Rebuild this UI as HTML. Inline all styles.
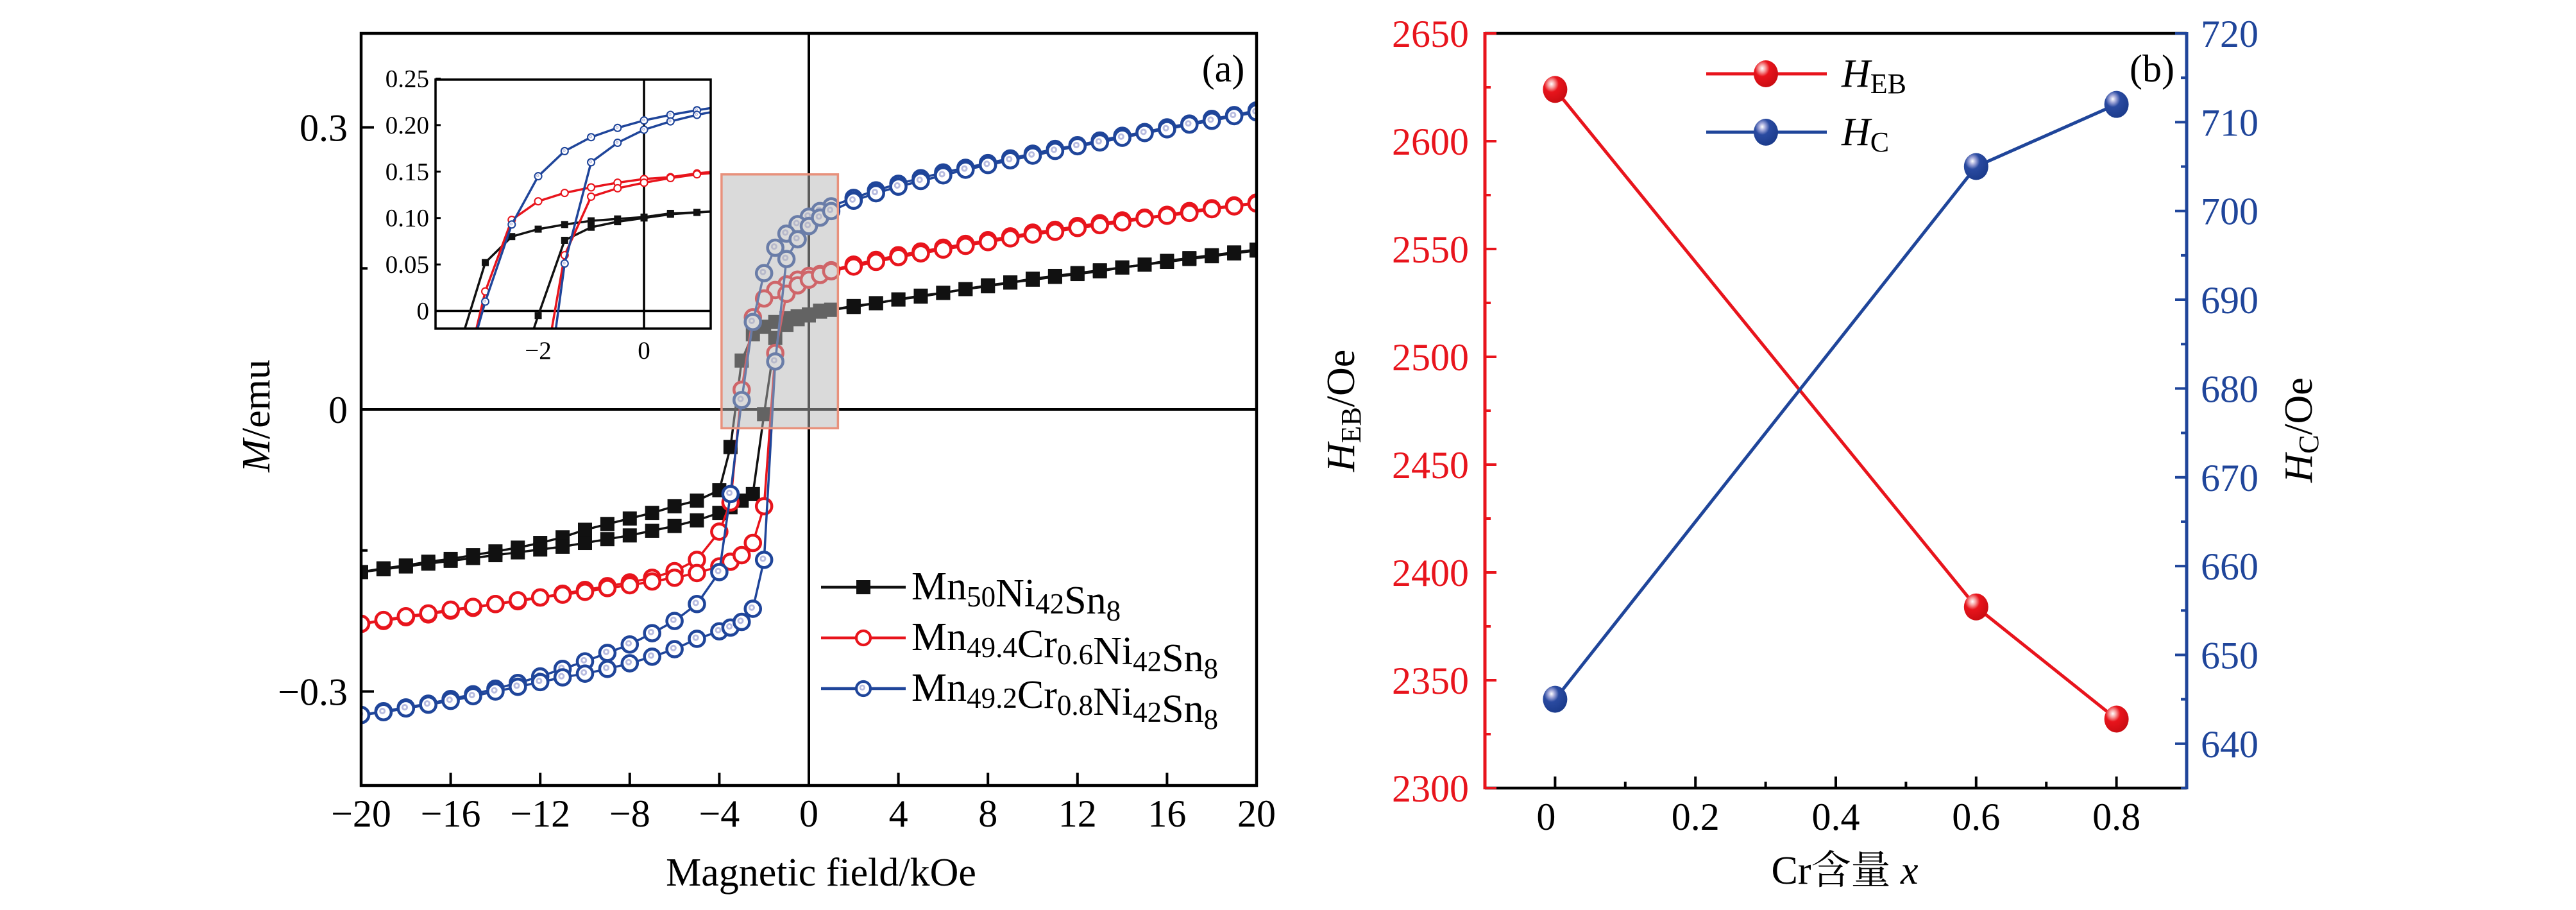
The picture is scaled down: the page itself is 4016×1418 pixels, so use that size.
<!DOCTYPE html>
<html><head><meta charset="utf-8">
<style>
html,body{margin:0;padding:0;background:#fff;}
svg{display:block;font-family:"Liberation Serif","Noto Serif CJK SC",serif;}
</style></head>
<body>
<svg id="fig" xmlns="http://www.w3.org/2000/svg" width="4016" height="1418" viewBox="0 0 4016 1418">
<defs>
<radialGradient id="gRed" cx="0.35" cy="0.3" r="0.75">
<stop offset="0" stop-color="#ffffff"/><stop offset="0.18" stop-color="#f7a0a0"/><stop offset="0.4" stop-color="#e8141c"/><stop offset="1" stop-color="#c80c12"/></radialGradient>
<radialGradient id="gBlue" cx="0.35" cy="0.3" r="0.75">
<stop offset="0" stop-color="#ffffff"/><stop offset="0.18" stop-color="#a0a6d8"/><stop offset="0.4" stop-color="#2a4aa0"/><stop offset="1" stop-color="#1a3a8a"/></radialGradient>
<clipPath id="clipA"><rect x="563" y="52" width="1396" height="1172"/></clipPath>
<clipPath id="clipI"><rect x="679" y="124" width="429" height="388"/></clipPath>
</defs>
</svg>
<script>
// ---------- Panel (a) data ----------
const hDesc = [20,19,18,17,16,15,14,13,12,11,10,9,8,7,6,5,4,3,2,1,0.5,0,-0.5,-1,-1.5,-2,-2.5,-3,-3.5,-4,-5,-6,-7,-8,-9,-10,-11,-12,-13,-14,-15,-16,-17,-18,-19,-20];
const hAsc = [-20,-19,-18,-17,-16,-15,-14,-13,-12,-11,-10,-9,-8,-7,-6,-5,-4,-3.5,-3,-2.5,-2,-1.5,-1,-0.5,0,0.5,1,2,3,4,5,6,7,8,9,10,11,12,13,14,15,16,17,18,19,20];
const mBlackDesc = [.170,.167,.164,.161,.158,.154,.151,.148,.145,.142,.139,.135,.132,.128,.124,.121,.117,.113,.110,.106,.105,.101,.099,.097,.093,.088,.080,.052,-.040,-.086,-.097,-.103,-.110,-.116,-.122,-.128,-.136,-.142,-.147,-.151,-.155,-.159,-.162,-.166,-.169,-.173];
const mBlackAsc = [-.173,-.170,-.167,-.164,-.161,-.158,-.155,-.152,-.149,-.146,-.142,-.138,-.134,-.129,-.124,-.118,-.110,-.104,-.097,-.090,-.005,.076,.090,.096,.100,.104,.106,.109,.113,.117,.120,.124,.128,.131,.135,.138,.141,.144,.147,.151,.154,.157,.160,.163,.166,.169];
const mRedDesc = [.220,.217,.214,.211,.207,.204,.201,.198,.195,.191,.188,.184,.180,.176,.172,.168,.164,.159,.154,.148,.144,.142,.138,.133,.127,.118,.098,.021,-.099,-.130,-.160,-.172,-.179,-.184,-.188,-.192,-.196,-.200,-.204,-.207,-.211,-.214,-.218,-.221,-.225,-.228];
const mRedAsc = [-.228,-.224,-.220,-.217,-.213,-.210,-.207,-.203,-.200,-.197,-.194,-.190,-.187,-.183,-.179,-.174,-.167,-.162,-.155,-.142,-.103,.060,.123,.132,.138,.143,.147,.152,.157,.162,.166,.170,.174,.178,.182,.186,.189,.193,.196,.199,.203,.206,.209,.213,.216,.219];
const mBlueDesc = [.318,.313,.309,.304,.300,.295,.291,.286,.281,.277,.272,.267,.262,.257,.252,.246,.240,.233,.225,.216,.211,.205,.197,.187,.172,.145,.093,.010,-.090,-.173,-.207,-.225,-.238,-.250,-.259,-.268,-.276,-.284,-.291,-.297,-.303,-.308,-.313,-.317,-.321,-.325];
const mBlueAsc = [-.325,-.322,-.318,-.314,-.310,-.305,-.300,-.295,-.290,-.285,-.281,-.276,-.270,-.263,-.255,-.244,-.236,-.232,-.226,-.212,-.160,.051,.160,.181,.195,.204,.211,.222,.230,.237,.243,.249,.255,.260,.265,.270,.275,.280,.284,.289,.294,.298,.303,.307,.312,.316];
const xTicksA = [-20,-16,-12,-8,-4,0,4,8,12,16,20];
const xTickLabelsA = ["\u221220","\u221216","\u221212","\u22128","\u22124","0","4","8","12","16","20"];
const yTicksA = [0.3,0,-0.3];
const yTickLabelsA = ["0.3","0","\u22120.3"];
const yMinorA = [0.15,-0.15];
const insetYTicks = [0,0.05,0.10,0.15,0.20,0.25];
const insetYLabels = ["0","0.05","0.10","0.15","0.20","0.25"];
const insetXTicks = [-2,0];
const insetXLabels = ["\u22122","0"];
// ---------- Panel (b) data ----------
const crX = [0,0.6,0.8];
const hEB = [2624,2384,2332];
const hC = [645,705,712];
const xTicksB = [0,0.2,0.4,0.6,0.8];
const xTickLabelsB = ["0","0.2","0.4","0.6","0.8"];
const yTicksBL = [2300,2350,2400,2450,2500,2550,2600,2650];
const yTicksBR = [640,650,660,670,680,690,700,710,720];

const NS = "http://www.w3.org/2000/svg";
const svg = document.getElementById('fig');
function mk(tag, attrs, parent){
  const e = document.createElementNS(NS, tag);
  for (const k in attrs) e.setAttribute(k, attrs[k]);
  (parent||svg).appendChild(e);
  return e;
}
const AX = {l:563,r:1959,t:52,b:1224,x0:-20,x1:20,y0:-0.4,y1:0.4};
const ax = h => AX.l + (h-AX.x0)/(AX.x1-AX.x0)*(AX.r-AX.l);
const ay = m => AX.b - (m-AX.y0)/(AX.y1-AX.y0)*(AX.b-AX.t);
const IN = {l:679,r:1108,t:124,b:512,x0:-3.94,x1:1.26,y0:-0.019,y1:0.249};
const ix = h => IN.l + (h-IN.x0)/(IN.x1-IN.x0)*(IN.r-IN.l);
const iy = m => IN.b - (m-IN.y0)/(IN.y1-IN.y0)*(IN.b-IN.t);
const BX = {l:2315,r:3409,t:52,b:1228};
const bx = v => BX.l + (v+0.1)/1.0*(BX.r-BX.l);
const byL = v => BX.b - (v-2300)/350*(BX.b-BX.t);
const byR = v => BX.b - (v-635)/85*(BX.b-BX.t);

const COL = {black:'#111111', red:'#e8141c', blue:'#1f459a'};

// ================= Panel (a) =================
const gA = mk('g',{});


const dataA = mk('g',{'clip-path':'url(#clipA)'},gA);


const zx = mk('line',{x1:ax(0),x2:ax(0),y1:AX.t,y2:AX.b,stroke:'#000','stroke-width':4},dataA);


const zy = mk('line',{x1:AX.l,x2:AX.r,y1:ay(0),y2:ay(0),stroke:'#000','stroke-width':4},dataA);



function marker(kind, x, y, s, parent){
  let e;
  if (kind==='black'){
    e = mk('rect',{x:x-s,y:y-s,width:2*s,height:2*s,fill:'#111'},parent);
  } else if (kind==='red'){
    e = mk('circle',{cx:x,cy:y,r:s,fill:'#fff',stroke:COL.red,'stroke-width':s*0.38},parent);
  } else {
    e = mk('g',{},parent);
    mk('circle',{cx:x,cy:y,r:s,fill:'#fff',stroke:COL.blue,'stroke-width':s*0.38},e);
    mk('circle',{cx:x-s*0.15,cy:y-s*0.15,r:s*0.42,fill:'#b8bce0'},e);
    mk('circle',{cx:x-s*0.15,cy:y-s*0.15,r:s*0.17,fill:'#fff'},e);
  }
  return e;
}
const seriesA = [
  {kind:'black', name:'mn50', H:[hDesc,hAsc], M:[mBlackDesc,mBlackAsc]},
  {kind:'red', name:'cr06', H:[hDesc,hAsc], M:[mRedDesc,mRedAsc]},
  {kind:'blue', name:'cr08', H:[hDesc,hAsc], M:[mBlueDesc,mBlueAsc]}
];
seriesA.forEach(s=>{
  const g = mk('g',{},dataA);
  
  
  for (let b=0;b<2;b++){
    const pts = s.H[b].map((h,i)=>ax(h)+','+ay(s.M[b][i])).join(' ');
    const pl = mk('polyline',{points:pts,fill:'none',stroke:COL[s.kind],'stroke-width':3.5},g);
    
    
  }
  for (let b=0;b<2;b++){
    s.H[b].forEach((h,i)=>{
      const m = marker(s.kind, ax(h), ay(s.M[b][i]), s.kind==='black'?11:12, g);
      
      
    });
  }
});
const hl = mk('rect',{x:ax(-3.9),y:ay(0.25),width:ax(1.3)-ax(-3.9),height:ay(-0.02)-ay(0.25),fill:'rgb(181,181,181)','fill-opacity':0.5,stroke:'#e8917c','stroke-width':3.5},gA);


const frA = mk('rect',{x:AX.l,y:AX.t,width:AX.r-AX.l,height:AX.b-AX.t,fill:'none',stroke:'#000','stroke-width':4.5},gA);


xTicksA.forEach((v,i)=>{
  const t = mk('line',{x1:ax(v),x2:ax(v),y1:AX.b,y2:AX.b-20,stroke:'#000','stroke-width':4},gA);
  
  
  const lb = mk('text',{x:ax(v),y:1288,'font-size':60,'text-anchor':'middle'},gA);
  lb.textContent = xTickLabelsA[i];
  
  
});
yTicksA.forEach((v,i)=>{
  const t = mk('line',{x1:AX.l,x2:AX.l+20,y1:ay(v),y2:ay(v),stroke:'#000','stroke-width':4},gA);
  
  
  const lb = mk('text',{x:542,y:ay(v)+21,'font-size':60,'text-anchor':'end'},gA);
  lb.textContent = yTickLabelsA[i];
  
  
});
yMinorA.forEach(v=>{
  const t = mk('line',{x1:AX.l,x2:AX.l+10,y1:ay(v),y2:ay(v),stroke:'#000','stroke-width':4},gA);
  
  
});
const xlA = mk('text',{x:1280,y:1380,'font-size':62,'text-anchor':'middle'},gA);
xlA.textContent = 'Magnetic field/kOe';


const ylA = mk('text',{x:0,y:0,'font-size':62,'text-anchor':'middle',transform:'translate(420,648) rotate(-90)'},gA);
ylA.innerHTML = '<tspan font-style="italic">M</tspan>/emu';


const tagA = mk('text',{x:1907,y:127,'font-size':60,'text-anchor':'middle'},gA);
tagA.textContent = '(a)';



const legA = mk('g',{},gA);


const legItems = [
  {kind:'black', y:915, parts:[['Mn',0],['50',1],['Ni',0],['42',1],['Sn',0],['8',1]]},
  {kind:'red', y:994, parts:[['Mn',0],['49.4',1],['Cr',0],['0.6',1],['Ni',0],['42',1],['Sn',0],['8',1]]},
  {kind:'blue', y:1073, parts:[['Mn',0],['49.2',1],['Cr',0],['0.8',1],['Ni',0],['42',1],['Sn',0],['8',1]]}
];
legItems.forEach(it=>{
  const g = mk('g',{},legA);
  
  
  mk('line',{x1:1280,x2:1412,y1:it.y,y2:it.y,stroke:COL[it.kind],'stroke-width':4.5},g);
  marker(it.kind,1346,it.y,11,g);
  const t = mk('text',{x:1421,y:it.y+19,'font-size':62},g);
  t.innerHTML = it.parts.map(p=>p[1]?'<tspan font-size="45" dy="11">'+p[0]+'</tspan><tspan dy="-11"></tspan>':'<tspan>'+p[0]+'</tspan>').join('');
});

const gI = mk('g',{},gA);


mk('rect',{x:IN.l,y:IN.t,width:IN.r-IN.l,height:IN.b-IN.t,fill:'#fff'},gI);
const dI = mk('g',{'clip-path':'url(#clipI)'},gI);
mk('line',{x1:ix(0),x2:ix(0),y1:IN.t,y2:IN.b,stroke:'#000','stroke-width':3.5},dI);
mk('line',{x1:IN.l,x2:IN.r,y1:iy(0),y2:iy(0),stroke:'#000','stroke-width':3.5},dI);
seriesA.forEach(s=>{
  const g = mk('g',{},dI);
  
  
  for (let b=0;b<2;b++){
    const pts = s.H[b].map((h,i)=>ix(h)+','+iy(s.M[b][i])).join(' ');
    mk('polyline',{points:pts,fill:'none',stroke:COL[s.kind],'stroke-width':3.5},g);
  }
  for (let b=0;b<2;b++){
    s.H[b].forEach((h,i)=>{
      if (h<-4.3||h>1.6) return;
      const m = marker(s.kind, ix(h), iy(s.M[b][i]), 5.5, g);
      
      
    });
  }
});
const frI = mk('rect',{x:IN.l,y:IN.t,width:IN.r-IN.l,height:IN.b-IN.t,fill:'none',stroke:'#000','stroke-width':3.5},gI);


insetYTicks.forEach((v,i)=>{
  mk('line',{x1:IN.l,x2:IN.l+8,y1:iy(v),y2:iy(v),stroke:'#000','stroke-width':3},gI);
  const lb = mk('text',{x:669,y:iy(v)+13,'font-size':39,'text-anchor':'end'},gI);
  lb.textContent = insetYLabels[i];
  
  
});
insetXTicks.forEach((v,i)=>{
  const lb = mk('text',{x:ix(v),y:559,'font-size':39,'text-anchor':'middle'},gI);
  lb.textContent = insetXLabels[i];
  
  
});

// ================= Panel (b) =================
const gB = mk('g',{});


const topB = mk('line',{x1:BX.l,x2:BX.r,y1:BX.t,y2:BX.t,stroke:'#000','stroke-width':4.5},gB);


const botB = mk('line',{x1:BX.l,x2:BX.r,y1:BX.b,y2:BX.b,stroke:'#000','stroke-width':4.5},gB);


const leftB = mk('line',{x1:BX.l,x2:BX.l,y1:BX.t-2,y2:BX.b+2,stroke:COL.red,'stroke-width':5},gB);


const rightB = mk('line',{x1:BX.r,x2:BX.r,y1:BX.t-2,y2:BX.b+2,stroke:COL.blue,'stroke-width':5},gB);


for (let k=1;k<=9;k++){
  const v = -0.1 + k*0.1;
  const major = (k%2===1);
  mk('line',{x1:bx(v),x2:bx(v),y1:BX.b,y2:BX.b-(major?18:10),stroke:'#000','stroke-width':4},gB);
}
xTicksB.forEach((v,i)=>{
  const lb = mk('text',{x:bx(v)-(v===0?14:0),y:1293,'font-size':60,'text-anchor':'middle'},gB);
  lb.textContent = xTickLabelsB[i];
  
  
});
yTicksBL.forEach((v,i)=>{
  mk('line',{x1:BX.l,x2:BX.l+18,y1:byL(v),y2:byL(v),stroke:COL.red,'stroke-width':4},gB);
  if (i<yTicksBL.length-1) mk('line',{x1:BX.l,x2:BX.l+9,y1:byL(v+25),y2:byL(v+25),stroke:COL.red,'stroke-width':4},gB);
  const lb = mk('text',{x:2290,y:byL(v)+21,'font-size':60,'text-anchor':'end',fill:COL.red},gB);
  lb.textContent = String(v);
  
  
});
yTicksBR.forEach((v,i)=>{
  mk('line',{x1:BX.r,x2:BX.r-18,y1:byR(v),y2:byR(v),stroke:COL.blue,'stroke-width':4},gB);
  mk('line',{x1:BX.r,x2:BX.r-9,y1:byR(v-5),y2:byR(v-5),stroke:COL.blue,'stroke-width':4},gB);
  const lb = mk('text',{x:3431,y:byR(v)+21,'font-size':60,'text-anchor':'start',fill:COL.blue},gB);
  lb.textContent = String(v);
  
  
});
function ball(x,y,grad,parent){
  return mk('ellipse',{cx:x,cy:y,rx:19,ry:21,fill:'url(#'+grad+')'},parent);
}
const lineEB = mk('polyline',{points:crX.map((v,i)=>bx(v)+','+byL(hEB[i])).join(' '),fill:'none',stroke:COL.red,'stroke-width':5},gB);


const lineC = mk('polyline',{points:crX.map((v,i)=>bx(v)+','+byR(hC[i])).join(' '),fill:'none',stroke:COL.blue,'stroke-width':5},gB);


crX.forEach((v,i)=>{
  const p = ball(bx(v),byL(hEB[i]),'gRed',gB);
  
  
  const q = ball(bx(v),byR(hC[i]),'gBlue',gB);
  
  
});
const legB = mk('g',{},gB);


[[115,'gRed',COL.red,'EB'],[206,'gBlue',COL.blue,'C']].forEach(r=>{
  const g = mk('g',{},legB);
  
  
  mk('line',{x1:2660,x2:2848,y1:r[0],y2:r[0],stroke:r[2],'stroke-width':5},g);
  ball(2753,r[0],r[1],g);
  const t = mk('text',{x:2871,y:r[0]+20,'font-size':62},g);
  t.innerHTML = '<tspan font-style="italic">H</tspan><tspan font-size="44" dy="10">'+r[3]+'</tspan>';
});
const tagB = mk('text',{x:3355,y:127,'font-size':60,'text-anchor':'middle'},gB);
tagB.textContent = '(b)';


const xlB = mk('text',{x:2876,y:1377,'font-size':62,'text-anchor':'middle'},gB);
xlB.innerHTML = 'Cr含量 <tspan font-style="italic">x</tspan>';


const ylB = mk('text',{x:0,y:0,'font-size':62,'text-anchor':'middle',transform:'translate(2111,640) rotate(-90)'},gB);
ylB.innerHTML = '<tspan font-style="italic">H</tspan><tspan font-size="44" dy="10">EB</tspan><tspan dy="-10">/Oe</tspan>';


const yrB = mk('text',{x:0,y:0,'font-size':62,'text-anchor':'middle',transform:'translate(3604,670) rotate(-90)'},gB);
yrB.innerHTML = '<tspan font-style="italic">H</tspan><tspan font-size="44" dy="10">C</tspan><tspan dy="-10">/Oe</tspan>';


</script>
</body></html>
